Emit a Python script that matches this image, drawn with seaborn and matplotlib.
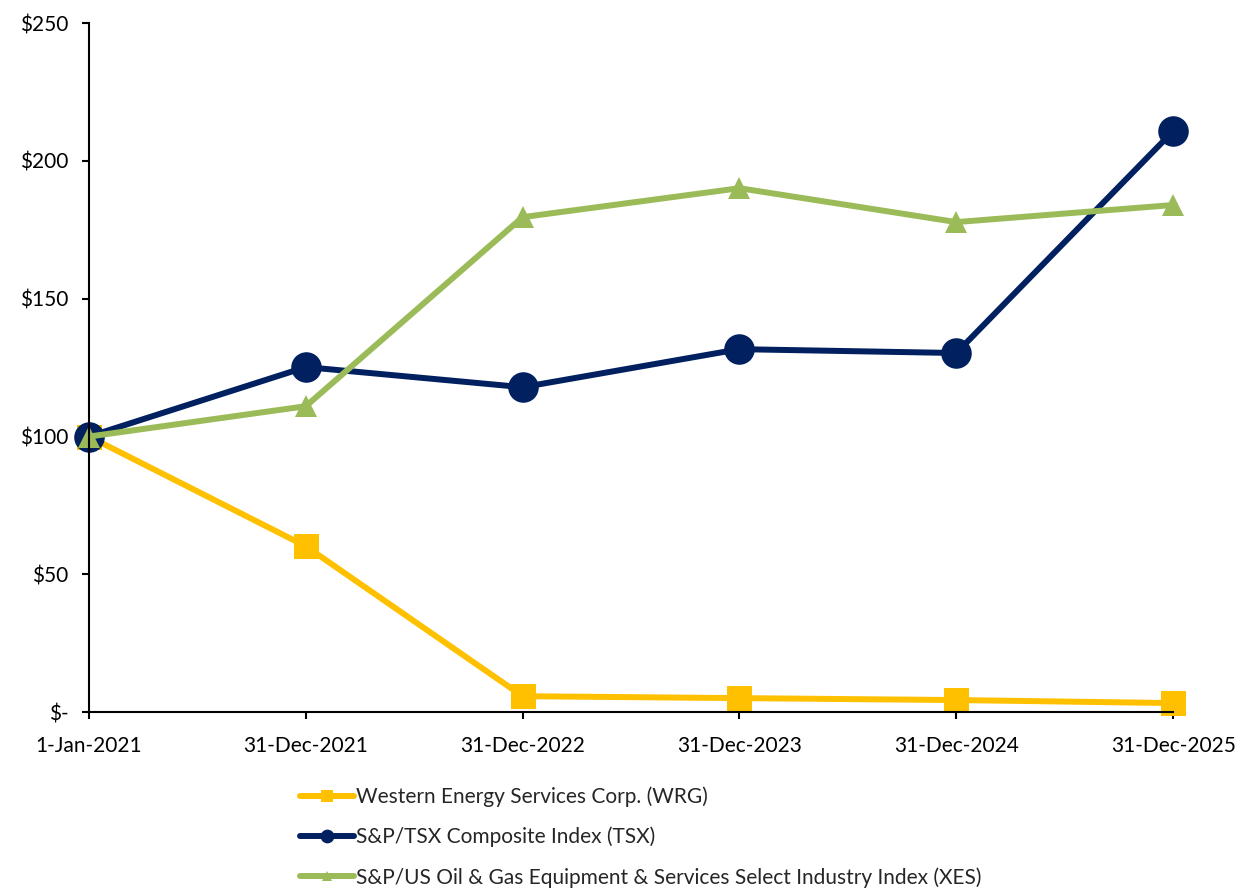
import pandas as pd
import matplotlib
matplotlib.use("Agg")
import matplotlib.pyplot as plt
import seaborn as sns

# Values (cumulative value of $100 invested)
dates = ['1-Jan-2021', '31-Dec-2021', '31-Dec-2022', '31-Dec-2023', '31-Dec-2024', '31-Dec-2025']
wrg = [100, 60.2, 5.8, 5.1, 4.4, 3.3]
tsx = [100, 125.2, 117.9, 131.7, 130.3, 210.8]
xes = [100, 111.0, 179.6, 190.1, 177.8, 184.0]

names = ['Western Energy Services Corp. (WRG)',
         'S&P/TSX Composite Index (TSX)',
         'S&P/US Oil & Gas Equipment & Services Select Industry Index (XES)']
colors = ['#FFC000', '#002060', '#9BBB59']
markers = ['s', 'o', '^']
msizes = [18, 22, 16]

sns.set_style('ticks')
plt.rcParams['font.family'] = ['Lato', 'DejaVu Sans']

fig = plt.figure(figsize=(12.41, 8.88), dpi=100)
ax = fig.add_axes([0.0717, 0.198, 0.8736, 0.776])

for vals, name, c, m, ms in zip([wrg, tsx, xes], names, colors, markers, msizes):
    df = pd.DataFrame({'x': range(len(dates)), 'y': vals})
    sns.lineplot(data=df, x='x', y='y', ax=ax, color=c, linewidth=4.3,
                 marker=m, markersize=ms, markeredgewidth=0, label=name)

for ln in ax.lines:
    ln.set_clip_on(False)

ax.set_xlim(0, len(dates) - 1)
ax.set_ylim(0, 250)
ax.set_xticks(range(len(dates)))
ax.set_xticklabels(dates)
ax.set_yticks([0, 50, 100, 150, 200, 250])
ax.set_yticklabels(['$-', '$50', '$100', '$150', '$200', '$250'])
ax.set_xlabel('')
ax.set_ylabel('')

for s in ['top', 'right']:
    ax.spines[s].set_visible(False)
for s in ['left', 'bottom']:
    ax.spines[s].set_color('black')
    ax.spines[s].set_linewidth(1.5)
ax.tick_params(axis='both', direction='out', length=5, width=1.5, color='black',
               labelsize=15, labelcolor='black')
ax.tick_params(axis='x', pad=12)
ax.tick_params(axis='y', pad=10)

handles, labels = ax.get_legend_handles_labels()
ax.legend_.remove()
fig.legend(handles, labels, loc='upper left', bbox_to_anchor=(0.235, 0.124),
           frameon=False, fontsize=15, markerscale=0.45, handlelength=2.6,
           handletextpad=0.1, labelspacing=0.95, borderaxespad=0)

fig.savefig('out.png', dpi=100)
